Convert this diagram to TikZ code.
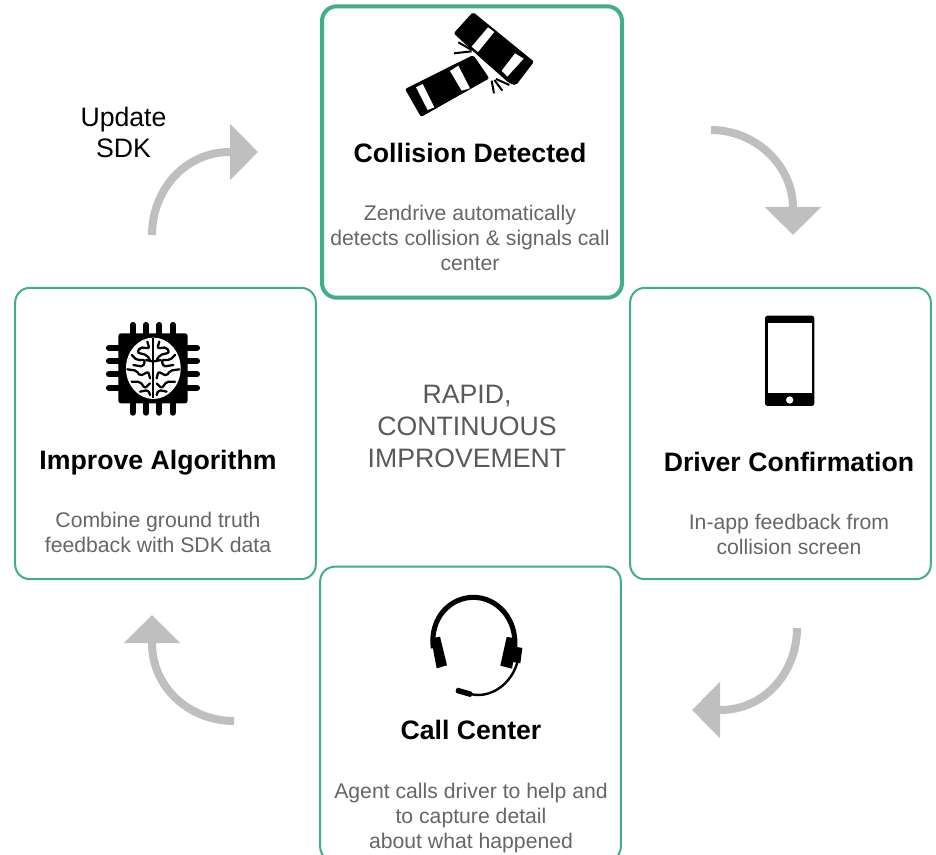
\documentclass[tikz,border=0pt]{standalone}
\usepackage{fontspec}
\setmainfont{Liberation Sans}
\usetikzlibrary{arrows.meta}
\definecolor{boxgreen}{HTML}{41AD8A}
\definecolor{arrowgrey}{HTML}{BFBFBF}
\definecolor{bodygrey}{HTML}{666666}
\definecolor{midgrey}{HTML}{595959}
\tikzset{
  card/.style={draw=boxgreen,line width=1.5pt,rounded corners=11pt,minimum width=225.5pt,minimum height=218.5pt,inner sep=0pt,fill=white},
  maincard/.style={card,line width=3pt,minimum width=225pt},
  heading/.style={font=\fontsize{20pt}{24pt}\selectfont\bfseries,text=black,inner sep=0pt,anchor=base},
  desc/.style={font=\fontsize{15.9pt}{18.75pt}\selectfont,text=bodygrey,align=center,inner sep=0pt},
  centretext/.style={font=\fontsize{20pt}{24pt}\selectfont,text=midgrey,align=center,inner sep=0pt},
  updatetext/.style={font=\fontsize{20pt}{23.2pt}\selectfont,text=black,align=center,inner sep=0pt},
  cyclearrow/.style={draw=arrowgrey,line width=6pt,-{Triangle[length=21pt,width=41pt]}},
  wrinkle/.style={draw=black,line width=1.7pt,line cap=round,line join=round,rounded corners=1.5pt},
  iconunits/.style={x=0.25pt,y=-0.25pt}
}
\begin{document}
\begin{tikzpicture}[x=0.75pt,y=-0.75pt]
\useasboundingbox (0,0) rectangle (936,855);
\clip (0,0) rectangle (936,855);
% cards
\node[maincard] (collision) at (472,152) {};
\node[card] (improve) at (165.5,433.5) {};
\node[card] (driver) at (780.5,433.5) {};
\node[card,minimum height=221pt] (callcenter) at (470.5,714) {};
% headings and texts
\node[heading] (h1) at (470,163) {Collision Detected};
\node[desc] (d1) at (470,237.5) {Zendrive automatically\\detects collision \& signals call\\center};
\node[heading] (h2) at (158,470) {Improve Algorithm};
\node[desc] (d2) at (158,532.5) {Combine ground truth\\feedback with SDK data};
\node[heading] (h3) at (789,472) {Driver Confirmation};
\node[desc] (d3) at (789,534.5) {In-app feedback from\\collision screen};
\node[heading] (h4) at (471,739) {Call Center};
\node[desc] (d4) at (471,818) {Agent calls driver to help and\\to capture detail\\about what happened};
\node[centretext] (rapid) at (467,426.5) {RAPID,\\CONTINUOUS\\IMPROVEMENT};
\node[updatetext] (update) at (123.5,132.5) {Update\\SDK};
% arrows
\coordinate (a1s) at (152,235); \coordinate (a1b) at (230,152); \coordinate (a1e) at (258,152);
\coordinate (a2s) at (711,130); \coordinate (a2b) at (793,208); \coordinate (a2e) at (793,235);
\coordinate (a3s) at (797,628); \coordinate (a3b) at (720,710); \coordinate (a3e) at (692,710);
\coordinate (a4s) at (234,721); \coordinate (a4b) at (152,643); \coordinate (a4e) at (152,615);
\path[cyclearrow] (a1s) .. controls (152,190) and (185,152) .. (a1b) -- (a1e);
\path[cyclearrow] (a2s) .. controls (755,130) and (793,165) .. (a2b) -- (a2e);
\path[cyclearrow] (a3s) .. controls (797,672) and (765,710) .. (a3b) -- (a3e);
\path[cyclearrow] (a4s) .. controls (190,721) and (152,688) .. (a4b) -- (a4e);
% collision icon
\begin{scope}[shift={(390,0)},iconunits]
  \fill[black,rounded corners=1.5pt] (249,36) -- (432,185) -- (378,256) -- (358,250) -- (245,150) -- (191,100) -- cycle;
  \fill[black,rounded corners=1.5pt] (45,267) -- (250,165) -- (298,235) -- (93,351) -- cycle;
  \fill[white] (294,82) -- (313,96) -- (264,156) -- (245,140) -- cycle;
  \fill[white] (375,160) -- (401,176) -- (352,230) -- (335,212) -- cycle;
  \fill[white] (180,213) -- (205,197) -- (240,265) -- (215,272) -- cycle;
  \fill[white] (78,262) -- (98,252) -- (133,322) -- (113,330) -- cycle;
  \draw[black,line width=1.5pt] (205,127) -- (245,150);
  \draw[black,line width=1.5pt] (192,160) -- (245,154);
  \draw[black,line width=1.5pt] (318,237) -- (358,255);
  \draw[black,line width=1.5pt] (313,240) -- (337,272);
  \draw[black,line width=1.5pt] (305,242) -- (312,280);
\end{scope}
% chip and brain icon
\begin{scope}[shift={(90,310)},iconunits]
  \foreach \p in {128,168,208,248} {
    \draw[black,line width=4.6pt,line cap=round] (\p,45) -- (\p,308);
  }
  \foreach \p in {113,153,193,233} {
    \draw[black,line width=4.6pt,line cap=round] (57,\p) -- (321,\p);
  }
  \fill[black,rounded corners=2pt] (85,70) rectangle (293,280);
  \fill[white] (190,175) ellipse [x radius=82,y radius=92];
  \draw[black,line width=1.7pt] (190,85) -- (190,265);
  \draw[wrinkle] (172,95) -- (178,115) -- (150,112) -- (142,128) -- (170,135) -- (180,150);
  \draw[wrinkle] (125,135) -- (140,150) -- (165,150) -- (160,170) -- (130,165);
  \draw[wrinkle] (112,178) -- (140,182) -- (150,198) -- (175,185) -- (180,205);
  \draw[wrinkle] (125,215) -- (150,215) -- (165,235) -- (180,220);
  \draw[wrinkle] (150,245) -- (175,240) -- (180,255);
  \draw[wrinkle] (208,95) -- (202,115) -- (230,112) -- (238,128) -- (210,135) -- (200,150);
  \draw[wrinkle] (255,135) -- (240,150) -- (215,150) -- (220,170) -- (250,165);
  \draw[wrinkle] (268,178) -- (240,182) -- (230,198) -- (205,185) -- (200,205);
  \draw[wrinkle] (255,215) -- (230,215) -- (215,235) -- (200,220);
  \draw[wrinkle] (230,245) -- (205,240) -- (200,255);
  \draw[wrinkle] (168,150) -- (190,155) -- (212,150);
\end{scope}
% phone icon
\begin{scope}[shift={(750,305)},iconunits]
  \fill[black,rounded corners=2pt] (45,32) rectangle (193,303);
  \fill[white] (54,55) rectangle (185,265);
  \fill[white] (119,285) circle [radius=11];
\end{scope}
% headset icon
\begin{scope}[shift={(410,585)},iconunits]
  \draw[black,line width=3.8pt] (70,190) .. controls (58,100) and (120,37) .. (190,37) .. controls (260,37) and (322,100) .. (314,190);
  \fill[black] (63,160) -- (90,155) -- (111,241) -- (80,250) -- cycle;
  \fill[black] (290,156) -- (322,160) -- (306,251) -- (271,242) -- cycle;
  \fill[black] (316,185) -- (337,189) -- (331,235) -- (308,231) -- cycle;
  \draw[black,line width=1.8pt] (322,232) .. controls (305,295) and (245,340) .. (185,328);
  \fill[black,rounded corners=1pt] (140,307) -- (188,321) -- (184,337) -- (136,323) -- cycle;
\end{scope}
\end{tikzpicture}
\end{document}
